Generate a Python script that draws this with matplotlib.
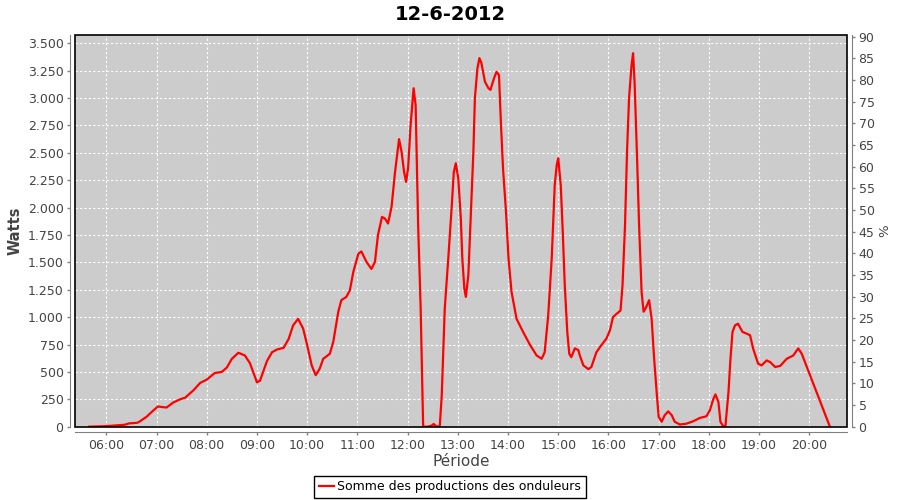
import matplotlib
matplotlib.use('Agg')
import matplotlib.pyplot as plt
from matplotlib.ticker import FuncFormatter, MultipleLocator
from matplotlib.patches import Rectangle

# heure décimale / puissance totale (W)
heures = [5.66, 6.0, 6.2, 6.37, 6.45, 6.6, 6.64, 6.8, 6.94, 7.03, 7.1, 7.2, 7.33, 7.47, 7.57,
          7.73, 7.87, 8.0, 8.16, 8.3, 8.4, 8.5, 8.63, 8.76, 8.86, 9.0, 9.06, 9.2, 9.3, 9.4,
          9.53, 9.63, 9.72, 9.82, 9.92, 10.0, 10.09, 10.17, 10.25, 10.32, 10.45, 10.52, 10.62,
          10.68, 10.78, 10.85, 10.92, 11.02, 11.08, 11.18, 11.28, 11.35, 11.41, 11.49, 11.55,
          11.61, 11.68, 11.75, 11.83, 11.88, 11.93, 11.97, 12.01, 12.06, 12.12, 12.16, 12.21,
          12.26, 12.31, 12.4, 12.48, 12.52, 12.56, 12.64, 12.68, 12.74, 12.81, 12.88, 12.92,
          12.96, 13.01, 13.06, 13.09, 13.13, 13.16, 13.21, 13.25, 13.31, 13.34, 13.39, 13.43,
          13.47, 13.54, 13.61, 13.65, 13.72, 13.77, 13.82, 13.86, 13.9, 13.96, 14.01, 14.07,
          14.17, 14.3, 14.44, 14.57, 14.67, 14.73, 14.8, 14.87, 14.93, 14.97, 15.0, 15.05,
          15.09, 15.13, 15.18, 15.22, 15.26, 15.33, 15.4, 15.43, 15.5, 15.6, 15.66, 15.76,
          15.86, 15.96, 16.03, 16.09, 16.16, 16.24, 16.28, 16.33, 16.37, 16.41, 16.46, 16.49,
          16.52, 16.57, 16.61, 16.66, 16.7, 16.74, 16.81, 16.86, 16.91, 16.96, 17.0, 17.06,
          17.12, 17.19, 17.26, 17.32, 17.42, 17.55, 17.69, 17.82, 17.95, 18.02, 18.09, 18.13,
          18.19, 18.23, 18.29, 18.33, 18.39, 18.43, 18.47, 18.52, 18.58, 18.67, 18.75, 18.82,
          18.88, 18.98, 19.05, 19.15, 19.22, 19.32, 19.42, 19.55, 19.68, 19.78, 19.85, 20.41]
watts = [0, 5, 12, 18, 30, 35, 40, 90, 150, 185, 180, 175, 220, 250, 265,
         330, 400, 430, 490, 500, 540, 620, 675, 650, 580, 405, 420, 600, 680, 705,
         720, 800, 925, 985, 895, 745, 560, 470, 530, 620, 665, 775, 1050,
         1155, 1185, 1245, 1415, 1580, 1600, 1505, 1440, 1505, 1750, 1915, 1900,
         1855, 2005, 2325, 2625, 2510, 2325, 2235, 2360, 2755, 3090, 2935, 1840,
         1080, 0, 0, 10, 25, 5, 0, 285, 1080, 1535, 2020, 2325,
         2405, 2265, 1900, 1535, 1260, 1185, 1385, 1840, 2510, 3000, 3270, 3365,
         3320, 3150, 3090, 3075, 3180, 3240, 3210, 2755, 2360, 1960, 1535, 1230,
         985, 865, 745, 650, 620, 680, 1015, 1535, 2205, 2390, 2450, 2205,
         1780, 1290, 865, 665, 635, 715, 700, 650, 560, 525, 545, 680,
         745, 805, 880, 1000, 1030, 1060, 1290, 1840, 2510, 3000, 3300, 3410,
         3150, 2450, 1840, 1230, 1050, 1080, 1155, 985, 620, 315, 90, 45,
         105, 140, 105, 45, 20, 27, 50, 80, 95, 150, 255, 295,
         225, 45, 0, 10, 315, 620, 865, 925, 940, 865, 850, 835,
         715, 575, 560, 605, 590, 545, 555, 620, 650, 715, 665, 0]

titre = '12-6-2012'
serie = 'Somme des productions des onduleurs'
heures_ticks = list(range(6, 21))

GRIS_AXE = '#808080'
GRIS_TXT = '#444444'


def milliers(v, pos):
    return f'{int(v):,}'.replace(',', '.')


fig = plt.figure(figsize=(9, 5), dpi=100)
ax = fig.add_axes([0.0837, 0.1466, 0.8571, 0.7834])
ax.set_facecolor('#CCCCCC')

ax.plot(heures, watts, color='red', lw=1.6, label=serie, zorder=3)

ax.set_xlim(5.383, 20.745)
ax.set_ylim(0, 3576)
ax.set_xticks(heures_ticks)
ax.xaxis.set_major_formatter(FuncFormatter(lambda v, p: f'{int(round(v)):02d}:00'))
ax.yaxis.set_major_locator(MultipleLocator(250))
ax.yaxis.set_major_formatter(FuncFormatter(milliers))
ax.grid(True, color='white', linestyle=(0, (2, 2)), lw=0.8)
ax.set_axisbelow(True)

# axe secondaire en %
ax2 = ax.twinx()
ax2.set_ylim(0, 90.4)
ax2.yaxis.set_major_locator(MultipleLocator(5))

for a in (ax, ax2):
    for s in a.spines.values():
        s.set_visible(False)
    a.tick_params(colors=GRIS_AXE, labelcolor=GRIS_TXT, labelsize=9, length=2.5,
                  width=1, pad=2)

for side in ('left', 'bottom'):
    ax.spines[side].set_visible(True)
    ax.spines[side].set_position(('outward', 4))
    ax.spines[side].set_color(GRIS_AXE)
ax2.spines['right'].set_visible(True)
ax2.spines['right'].set_position(('outward', 4))
ax2.spines['right'].set_color(GRIS_AXE)

# cadre noir du graphique
ax.add_patch(Rectangle((0, 0), 1, 1, transform=ax.transAxes, fill=False,
                       edgecolor='black', lw=1.2, clip_on=False, zorder=5))

ax.set_ylabel('Watts', fontsize=10.5, fontweight='bold', color=GRIS_TXT, labelpad=4)
ax.set_xlabel('Période', fontsize=11, color=GRIS_TXT, labelpad=2)
ax2.set_ylabel('%', fontsize=9.5, color=GRIS_TXT, labelpad=3)
fig.suptitle(titre, fontsize=14, fontweight='bold', y=0.99)

fig.legend(loc='lower center', bbox_to_anchor=(0.5, 0.0), fontsize=9, frameon=True,
           fancybox=False, edgecolor='black', framealpha=1, handlelength=1.2,
           handletextpad=0.3, borderpad=0.35, borderaxespad=0.2)

fig.savefig('out.png', dpi=100)
